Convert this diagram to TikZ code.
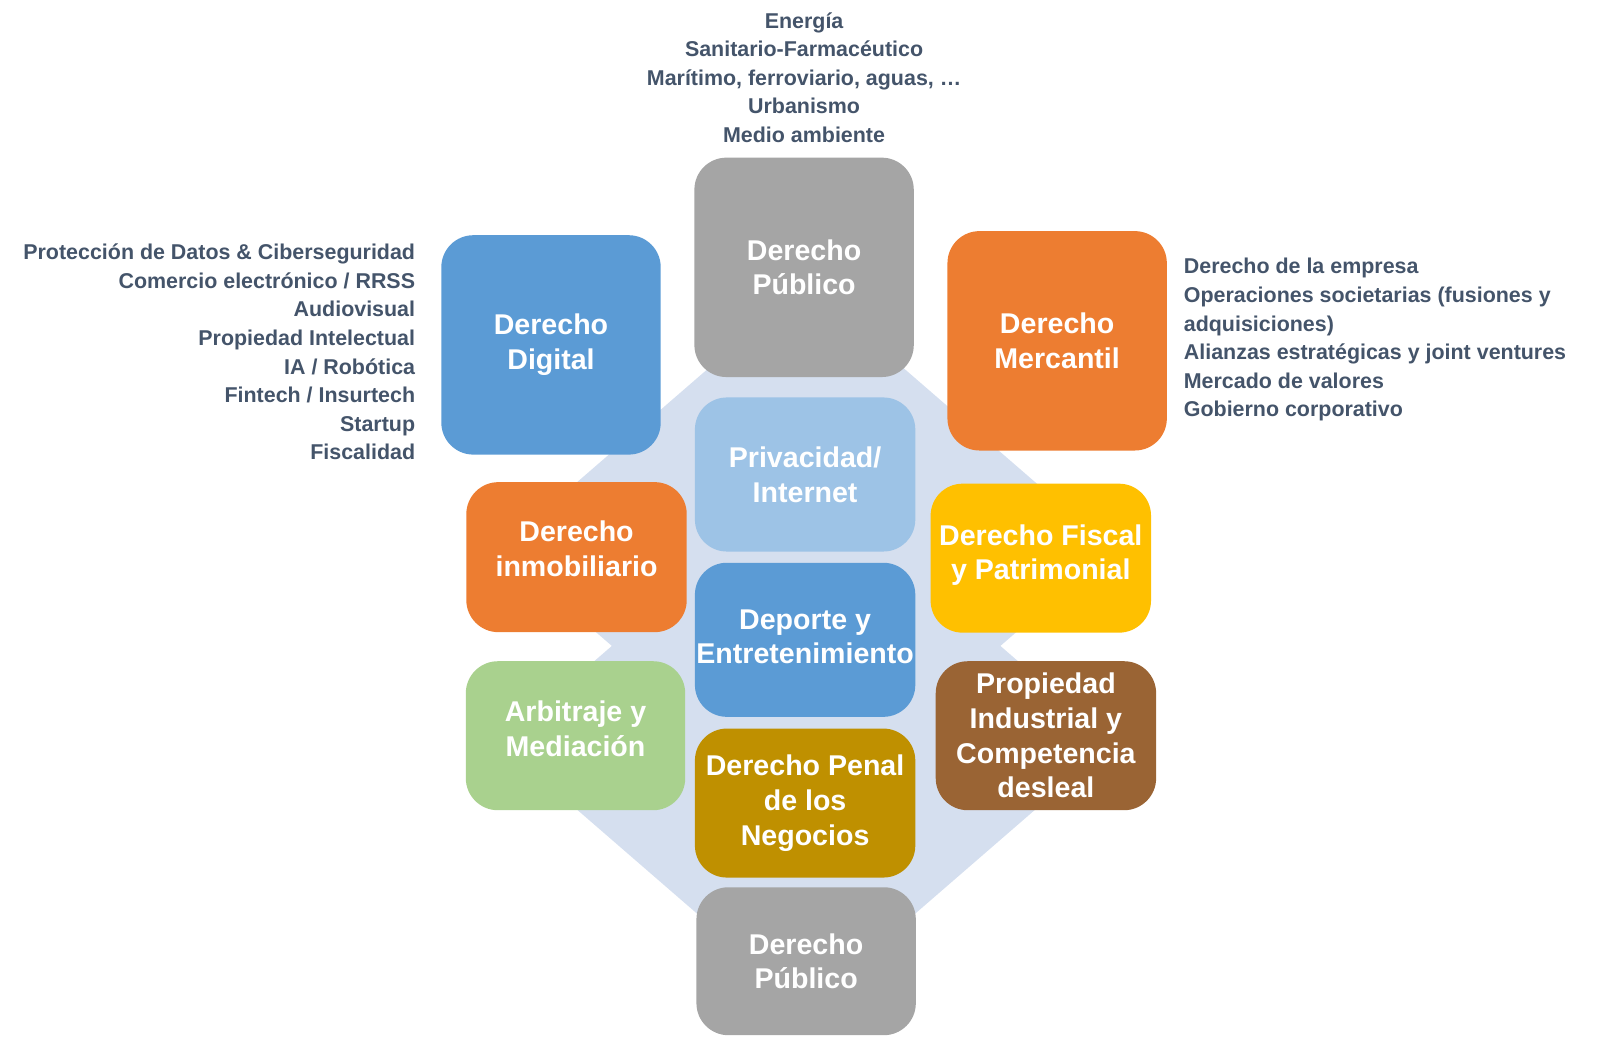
\documentclass[tikz,border=0pt]{standalone}
\usepackage{fontspec}
\setmainfont{Liberation Sans}
\usepackage{xcolor}
\definecolor{gris}{HTML}{A5A5A5}
\definecolor{azul}{HTML}{5B9BD5}
\definecolor{naranja}{HTML}{ED7D31}
\definecolor{celeste}{HTML}{9DC3E6}
\definecolor{oro}{HTML}{FFC000}
\definecolor{verde}{HTML}{A9D18E}
\definecolor{marron}{HTML}{9A6434}
\definecolor{ocre}{HTML}{BF9000}
\definecolor{fondo}{HTML}{D5DFEF}
\definecolor{texto}{HTML}{44546A}
\tikzset{
  area/.style={rounded corners=32, inner sep=0pt, text=white, align=center,
    font=\fontsize{28}{34}\selectfont\bfseries},
  lista/.style={inner sep=0pt, text=texto, font=\fontsize{21}{28}\selectfont\bfseries}
}

\begin{document}
\begin{tikzpicture}[x=1pt,y=-1pt,scale=1.0204,every node/.style={transform shape}]
	\useasboundingbox (0,0) rectangle (1568,1017.2);
	\fill [fondo] (790,278) -- (490,538) -- (790,798) -- (1090,538) -- cycle;
	\fill [fondo] (790,468) -- (490,728) -- (790,988) -- (1090,728) -- cycle;

	\node[area, fill=gris, minimum width=215, minimum height=215] (publico) at (788,262) {Derecho\\Público};
	\node[area, fill=azul, minimum width=215, minimum height=215] (digital) at (540,338) {Derecho\\Digital};
	\node[area, fill=naranja, minimum width=215, minimum height=215] (mercantil) at (1036,334) {Derecho\\Mercantil};
	\node[area, fill=celeste, minimum width=216, minimum height=151] (privacidad) at (789,465) {Privacidad/\\Internet};
	\node[area, fill=naranja, minimum width=216, minimum height=147, text depth=16pt] (inmobiliario) at (565,546) {Derecho\\inmobiliario};
	\node[area, fill=oro, minimum width=216, minimum height=146, text depth=12pt] (fiscal) at (1020,547) {Derecho Fiscal\\y Patrimonial};
	\node[area, fill=azul, minimum width=216, minimum height=151, text depth=6pt] (deporte) at (789,627) {Deporte y\\Entretenimiento};
	\node[area, fill=verde, minimum width=215, minimum height=146, text depth=14pt] (arbitraje) at (564,721) {Arbitraje y\\Mediación};
	\node[area, fill=marron, minimum width=216, minimum height=146] (industrial) at (1025,721) {Propiedad\\Industrial y\\Competencia\\desleal};
	\node[area, fill=ocre, minimum width=216, minimum height=146] (penal) at (789,787) {Derecho Penal\\de los\\Negocios};
	\node[area, fill=gris, minimum width=215, minimum height=145] (publicob) at (790,942) {Derecho\\Público};

	\node[lista, align=center] (sectores) at (788,76) {Energía\\Sanitario-Farmacéutico\\Marítimo, ferroviario, aguas, …\\Urbanismo\\Medio ambiente};
	\node[lista, align=right, anchor=east] (temasdigital) at (407,345) {Protección de Datos \& Ciberseguridad\\Comercio electrónico / RRSS\\Audiovisual\\Propiedad Intelectual\\IA / Robótica\\Fintech / Insurtech\\Startup\\Fiscalidad};
	\node[lista, align=left, anchor=west] (temasmercantil) at (1160,333) {Derecho de la empresa\\Operaciones societarias (fusiones y\\adquisiciones)\\Alianzas estratégicas y joint ventures\\Mercado de valores\\Gobierno corporativo};
\end{tikzpicture}
\end{document}
